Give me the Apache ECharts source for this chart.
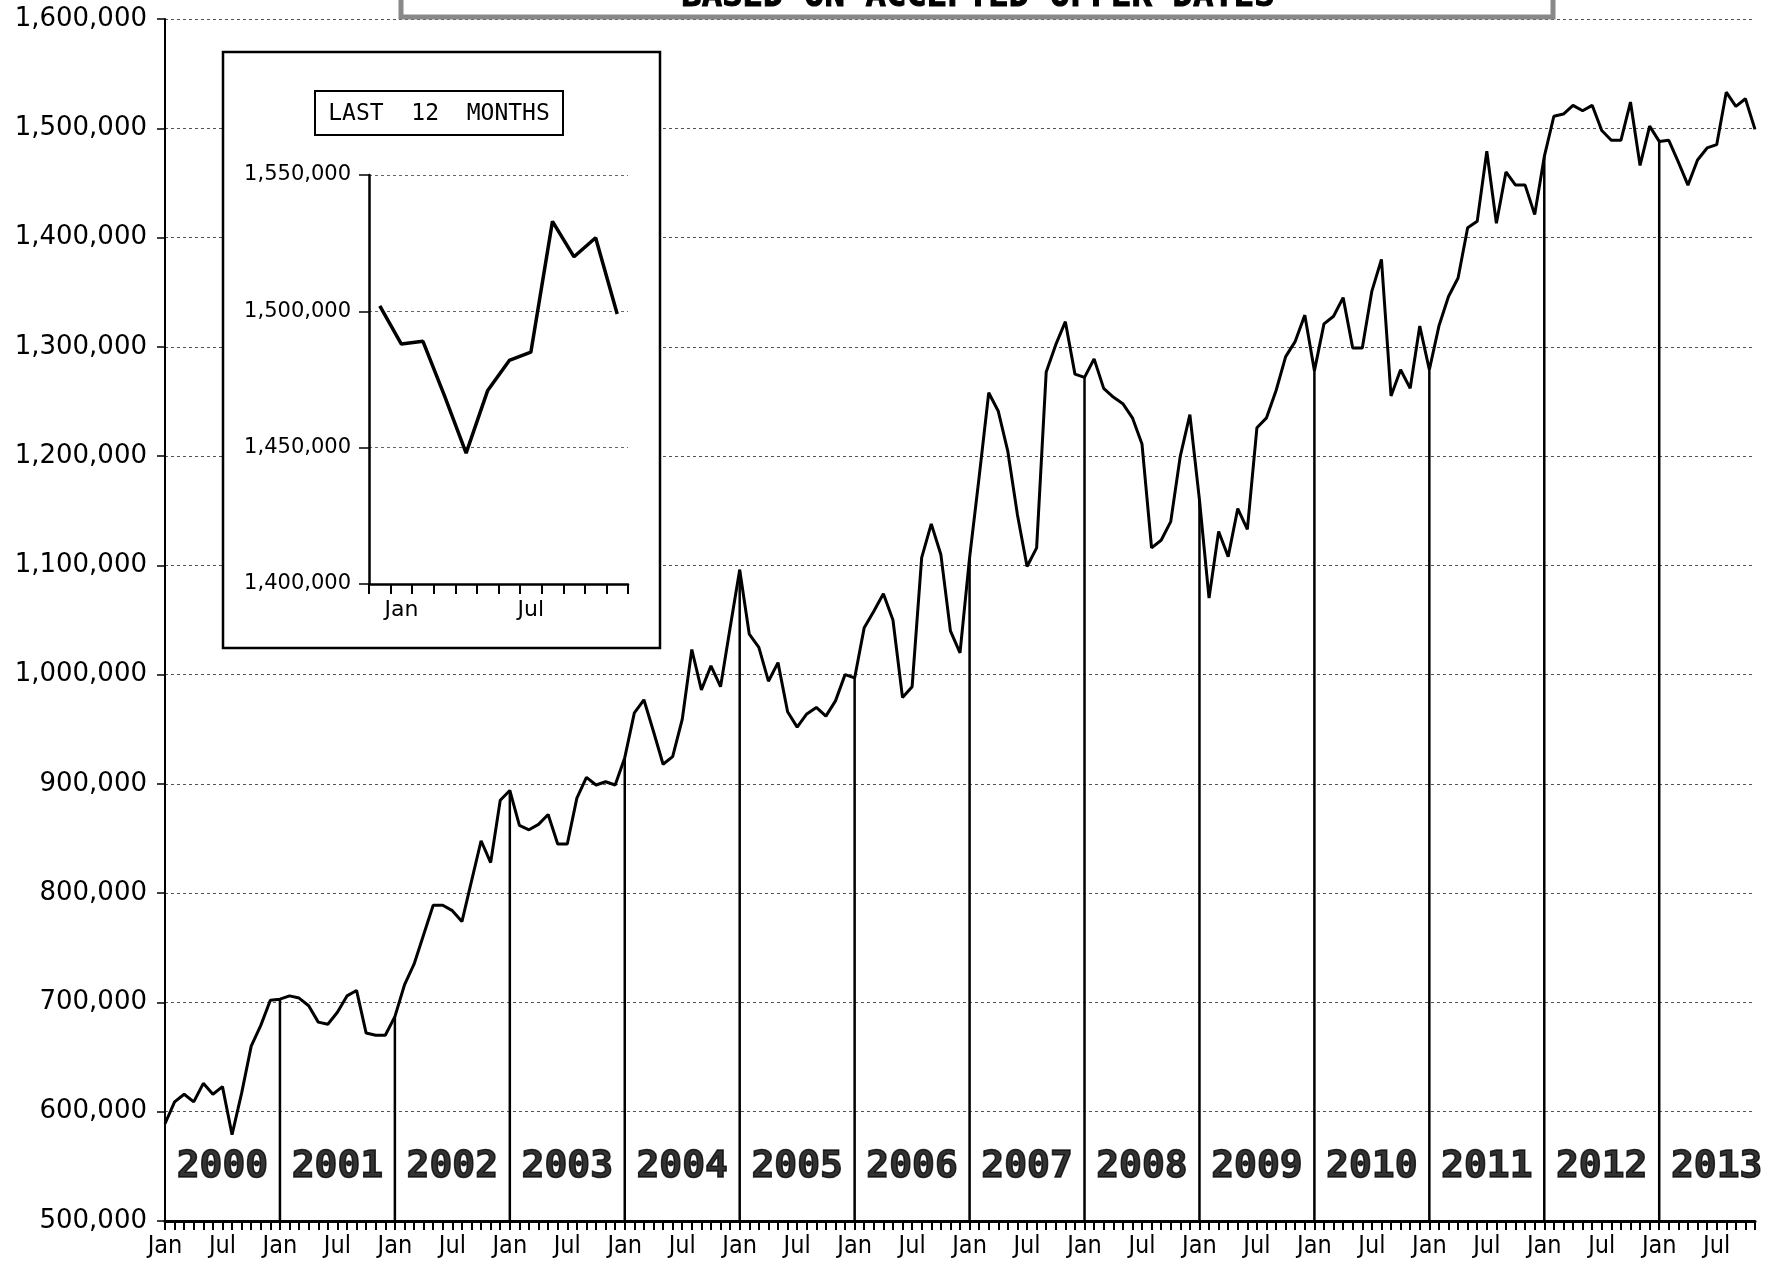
<!DOCTYPE html>
<html>
<head>
<meta charset="utf-8">
<title>Sales - based on accepted offer dates</title>
<script src="https://cdn.jsdelivr.net/npm/echarts@6/dist/echarts.min.js"></script>
<style>
  html, body { margin: 0; padding: 0; background: #fff; }
  #chart { width: 1781px; height: 1265px; }
</style>
</head>
<body>
<div id="chart"></div>
<script>
var years = ['2000', '2001', '2002', '2003', '2004', '2005', '2006',
             '2007', '2008', '2009', '2010', '2011', '2012', '2013'];
var monthNames = ['Jan', 'Feb', 'Mar', 'Apr', 'May', 'Jun',
                  'Jul', 'Aug', 'Sep', 'Oct', 'Nov', 'Dec'];

// monthly values, Jan..Dec (2013 stops at Nov)
var values2000 = [589000, 609000, 616000, 609000, 626000, 616000, 623000, 579000, 617000, 660000, 679000, 702000];
var values2001 = [703000, 706000, 704000, 697000, 682000, 680000, 691000, 706000, 711000, 672000, 670000, 670000];
var values2002 = [687000, 716000, 735000, 762000, 789000, 789000, 784000, 774000, 811000, 848000, 828000, 885000];
var values2003 = [894000, 862000, 858000, 863000, 872000, 845000, 845000, 887000, 906000, 899000, 902000, 899000];
var values2004 = [924000, 965000, 977000, 948000, 918000, 925000, 959000, 1023000, 986000, 1008000, 989000, 1043000];
var values2005 = [1096000, 1037000, 1025000, 994000, 1011000, 966000, 952000, 964000, 970000, 962000, 976000, 1000000];
var values2006 = [997000, 1043000, 1058000, 1074000, 1050000, 979000, 989000, 1107000, 1138000, 1110000, 1040000, 1020000];
var values2007 = [1107000, 1181000, 1258000, 1241000, 1204000, 1146000, 1099000, 1116000, 1277000, 1302000, 1323000, 1275000];
var values2008 = [1272000, 1289000, 1262000, 1254000, 1248000, 1235000, 1211000, 1116000, 1123000, 1140000, 1200000, 1238000];
var values2009 = [1160000, 1070000, 1131000, 1108000, 1152000, 1133000, 1226000, 1235000, 1260000, 1291000, 1305000, 1329000];
var values2010 = [1278000, 1321000, 1328000, 1345000, 1299000, 1299000, 1351000, 1380000, 1255000, 1279000, 1262000, 1319000];
var values2011 = [1279000, 1319000, 1346000, 1363000, 1409000, 1415000, 1479000, 1413000, 1460000, 1448000, 1448000, 1421000];
var values2012 = [1474000, 1511000, 1513000, 1521000, 1516000, 1521000, 1498000, 1489000, 1489000, 1524000, 1466000, 1502000];
var values2013 = [1488000, 1489000, 1469000, 1448000, 1471000, 1482000, 1485000, 1533000, 1520000, 1527000, 1499000];

var yearValues = [values2000, values2001, values2002, values2003, values2004, values2005, values2006,
                  values2007, values2008, values2009, values2010, values2011, values2012, values2013];

var mainTicks = [500000, 600000, 700000, 800000, 900000, 1000000, 1100000,
                 1200000, 1300000, 1400000, 1500000, 1600000];
var insetTicks = [1400000, 1450000, 1500000, 1550000];
var insetLabels = ['Jan', 'Jul'];

// flatten into one monthly series
var categories = [];
var values = [];
var dropLines = [];
for (var y = 0; y < years.length; y++) {
	var arr = yearValues[y];
	for (var m = 0; m < arr.length; m++) {
		categories.push(monthNames[m] + ' ' + years[y]);
		values.push(arr[m]);
		dropLines.push((m === 0 && y > 0) ? arr[m] : '-');
	}
}

// last 12 months for the inset
var insetValues = values.slice(-12);
var insetCats = categories.slice(-12).map(function (c) { return c.split(' ')[0]; });

var yearLabelLevel = 549000;
var yearLabelData = years.map(function (yr, i) {
	return { name: yr, value: [i * 12 + 6, yearLabelLevel] };
});

function commas(v) {
	return String(v).replace(/\B(?=(\d{3})+(?!\d))/g, ',');
}

var narrowFont = '"Liberation Sans Narrow", "DejaVu Sans Condensed", "Roboto Condensed", "Liberation Sans", sans-serif';
var wideFont = '"DejaVu Sans", Verdana, sans-serif';
var monoFont = '"DejaVu Sans Mono", "Liberation Mono", monospace';

var chart = echarts.init(document.getElementById('chart'));

var option = {
	animation: false,
	backgroundColor: '#fff',
	grid: [{
		left: 165, top: 19, right: 26, bottom: 44,
		containLabel: false, outerBoundsMode: 'none'
	}, {
		left: 369, top: 175, width: 259, height: 409,
		containLabel: false, outerBoundsMode: 'none'
	}],
	xAxis: [{
		gridIndex: 0,
		type: 'category',
		data: categories,
		boundaryGap: false,
		axisLine: { show: true, lineStyle: { color: '#000', width: 3 } },
		axisTick: { show: true, interval: 0, length: 9, lineStyle: { color: '#000', width: 2 } },
		axisLabel: {
			interval: 5,
			color: '#000',
			fontFamily: narrowFont,
			fontSize: 25,
			margin: 13,
			formatter: function (v) { return v.split(' ')[0]; }
		},
		splitLine: { show: false }
	}, {
		gridIndex: 1,
		type: 'category',
		data: insetCats,
		boundaryGap: true,
		z: 3,
		axisLine: { show: true, lineStyle: { color: '#000', width: 2.5 } },
		axisTick: { show: true, interval: 0, length: 10, lineStyle: { color: '#000', width: 2 } },
		axisLabel: {
			interval: function (idx, val) { return insetLabels.indexOf(val) >= 0; },
			color: '#000',
			fontFamily: wideFont,
			fontSize: 22,
			margin: 15
		},
		splitLine: { show: false }
	}],
	yAxis: [{
		gridIndex: 0,
		type: 'value',
		min: mainTicks[0],
		max: mainTicks[mainTicks.length - 1],
		interval: mainTicks[1] - mainTicks[0],
		axisLine: { show: true, lineStyle: { color: '#000', width: 2 } },
		axisTick: { show: true, length: 8, lineStyle: { color: '#000', width: 1.5 } },
		axisLabel: {
			color: '#000',
			fontFamily: wideFont,
			fontSize: 26,
			margin: 18,
			formatter: commas
		},
		splitLine: { show: true, lineStyle: { color: '#555', width: 1, type: [3, 3] } }
	}, {
		gridIndex: 1,
		type: 'value',
		min: insetTicks[0],
		max: insetTicks[insetTicks.length - 1],
		interval: insetTicks[1] - insetTicks[0],
		z: 3,
		axisLine: { show: true, lineStyle: { color: '#000', width: 2.5 } },
		axisTick: { show: true, length: 10, lineStyle: { color: '#000', width: 1.5 } },
		axisLabel: {
			color: '#000',
			fontFamily: wideFont,
			fontSize: 21,
			margin: 18,
			formatter: commas
		},
		splitLine: { show: true, lineStyle: { color: '#666', width: 1, type: [3, 3] } }
	}],
	series: [{
		name: 'drop lines',
		type: 'bar',
		xAxisIndex: 0,
		yAxisIndex: 0,
		data: dropLines,
		barWidth: 2.5,
		itemStyle: { color: '#000' },
		z: 2
	}, {
		name: 'sales',
		type: 'line',
		xAxisIndex: 0,
		yAxisIndex: 0,
		data: values,
		symbol: 'none',
		lineStyle: { color: '#000', width: 3 },
		z: 3
	}, {
		name: 'years',
		type: 'scatter',
		xAxisIndex: 0,
		yAxisIndex: 0,
		data: yearLabelData,
		symbolSize: 1,
		itemStyle: { color: 'transparent' },
		label: {
			show: true,
			position: 'inside',
			formatter: '{b}',
			color: '#000',
			fontFamily: monoFont,
			fontWeight: 'bold',
			fontSize: 38,
			textBorderColor: '#000',
			textBorderWidth: 1.5
		},
		z: 4
	}, {
		name: 'last 12 months',
		type: 'line',
		xAxisIndex: 1,
		yAxisIndex: 1,
		data: insetValues,
		symbol: 'none',
		lineStyle: { color: '#000', width: 3.5 },
		z: 5
	}],
	graphic: [{
		type: 'rect',
		z: 1,
		shape: { x: 223, y: 52, width: 437, height: 596 },
		style: { fill: '#fff', stroke: '#000', lineWidth: 2.5 }
	}, {
		type: 'rect',
		z: 6,
		shape: { x: 315, y: 91, width: 248, height: 44 },
		style: { fill: '#fff', stroke: '#000', lineWidth: 2 }
	}, {
		type: 'text',
		z: 7,
		x: 439,
		y: 114,
		style: {
			text: 'LAST  12  MONTHS',
			font: '23px ' + monoFont,
			fill: '#000',
			textAlign: 'center',
			textVerticalAlign: 'middle'
		}
	}, {
		type: 'rect',
		z: 10,
		shape: { x: 401, y: -40, width: 1152, height: 57 },
		style: { fill: '#fff', stroke: '#888', lineWidth: 5 }
	}, {
		type: 'text',
		z: 11,
		x: 978,
		y: 14,
		style: {
			text: 'BASED ON ACCEPTED OFFER DATES',
			font: 'bold 34px ' + monoFont,
			fill: '#000',
			stroke: '#000',
			lineWidth: 1,
			textAlign: 'center',
			textVerticalAlign: 'bottom'
		}
	}]
};

chart.setOption(option);
</script>
</body>
</html>
